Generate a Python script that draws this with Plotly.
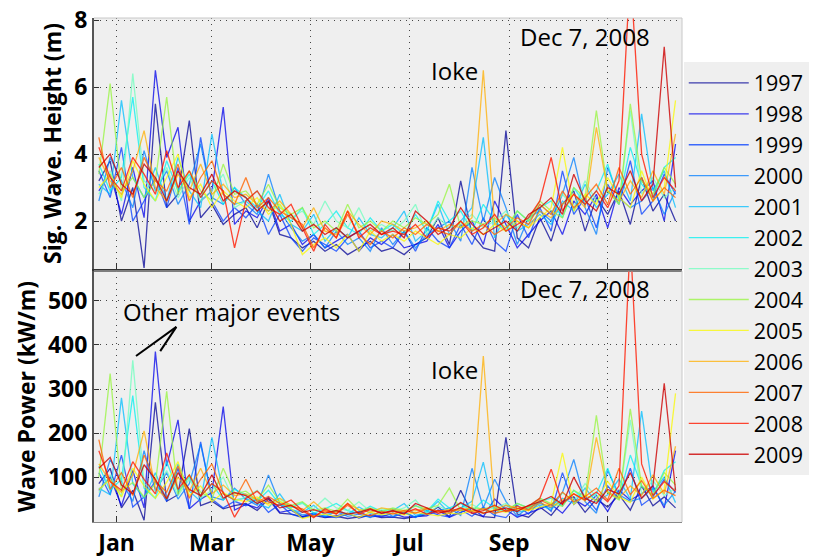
import plotly.graph_objects as go

# ---------------- data ----------------
years = ["1997", "1998", "1999", "2000", "2001", "2002", "2003",
         "2004", "2005", "2006", "2007", "2008", "2009"]
# day-of-year of each weekly sample
days = [3 + 7 * i for i in range(52)]

month_ticks = [14, 73, 134, 195, 257, 318]
month_labels = ["Jan", "Mar", "May", "Jul", "Sep", "Nov"]

hs_1997 = [3.2,3.8,2.0,3.0,0.6,5.5,2.4,2.8,5.0,2.1,2.5,1.9,2.2,
           2.4,1.8,2.6,1.6,1.5,1.2,1.4,1.1,1.3,1.0,1.2,1.4,1.1,
           1.2,1.0,1.3,1.5,2.1,1.3,3.2,1.6,1.2,1.1,4.7,1.5,1.2,
           2.1,1.4,2.5,2.9,1.7,2.7,2.2,2.9,1.9,3.3,2.3,2.8,2.0]
hs_1998 = [2.9,3.4,2.2,3.6,2.1,6.5,3.9,4.8,2.0,2.6,2.9,5.4,1.9,
           2.3,2.1,2.7,1.7,1.9,1.3,1.6,1.2,1.4,1.6,1.1,1.5,1.3,
           1.6,1.2,1.3,1.4,1.9,1.2,1.7,2.0,1.3,2.6,1.9,1.2,1.6,
           2.0,2.3,1.6,2.6,2.2,2.8,1.8,3.0,2.5,2.9,3.2,2.0,4.3]
hs_1999 = [3.5,2.7,4.2,2.0,2.6,3.3,2.4,3.6,1.9,4.5,2.6,2.0,2.4,
           2.1,2.5,1.6,2.2,1.5,1.1,1.5,1.3,1.1,1.5,1.7,1.2,1.4,
           1.2,1.7,1.1,1.8,1.4,1.2,1.9,1.3,2.1,1.4,1.1,2.2,1.5,
           2.4,1.7,3.5,2.2,2.7,1.8,3.1,2.5,3.8,2.2,2.6,3.4,2.8]
hs_2000 = [2.6,3.9,3.2,2.4,4.1,2.9,3.5,2.5,3.1,4.3,2.7,2.5,3.0,
           2.5,2.2,3.4,2.3,1.8,1.4,1.6,1.2,1.7,1.3,1.5,1.1,1.8,
           1.3,1.7,1.2,1.6,1.8,2.0,1.4,3.6,2.0,3.3,2.4,1.3,2.1,
           2.3,2.0,2.8,3.9,2.4,1.6,3.6,2.7,2.4,2.6,3.0,2.2,2.9]
hs_2001 = [3.1,2.8,5.6,3.3,2.7,3.6,2.6,3.9,2.9,2.4,4.6,2.8,2.5,
           2.6,2.3,2.0,2.8,1.9,1.7,2.2,1.4,1.8,1.5,2.1,1.6,1.5,
           1.8,2.3,1.4,1.7,2.5,1.6,2.0,2.4,4.5,1.5,2.2,1.7,1.9,
           2.2,1.9,2.6,2.3,3.1,2.4,2.8,3.4,2.6,5.2,2.9,3.5,2.4]
hs_2002 = [3.7,2.9,3.3,5.7,3.0,2.6,3.8,2.9,3.4,2.7,3.2,2.5,3.0,
           2.7,2.4,2.9,2.2,2.0,2.4,1.6,1.9,2.3,1.8,1.6,2.1,1.7,
           1.9,1.6,2.2,1.7,2.6,2.0,2.3,1.7,2.5,2.0,1.7,2.3,2.0,
           2.4,2.6,2.1,3.0,2.5,2.9,3.7,2.6,4.2,3.1,2.7,3.6,3.9]
hs_2003 = [2.8,3.5,2.6,6.4,3.2,2.9,3.6,2.7,3.3,2.6,2.9,3.4,2.4,
           2.6,2.9,2.3,2.5,2.1,2.3,1.9,2.6,2.0,1.8,2.4,1.7,1.9,
           1.7,2.0,2.5,1.6,2.1,1.8,1.9,2.2,1.8,2.0,2.3,1.8,2.1,
           2.5,2.2,2.8,2.4,3.2,2.6,2.9,2.5,5.3,2.8,3.3,2.7,3.0]
hs_2004 = [3.4,6.1,2.9,3.3,2.7,3.2,5.7,2.8,3.5,2.9,2.6,3.7,2.8,
           2.9,2.5,3.1,2.4,2.2,2.4,1.8,2.0,1.7,2.5,1.8,2.0,1.7,
           2.0,1.8,2.1,1.9,2.2,3.1,1.8,2.0,1.9,2.1,1.8,2.3,2.0,
           2.6,2.3,2.1,3.0,2.7,5.3,2.9,2.5,5.5,3.2,2.8,3.6,3.1]
hs_2005 = [3.0,3.4,2.7,3.8,3.1,2.6,3.3,4.0,2.7,3.1,2.4,2.9,2.6,
           2.4,2.7,2.2,2.5,1.9,1.0,1.3,1.5,1.2,1.6,1.1,1.7,1.4,
           1.6,1.4,1.7,1.5,1.3,1.6,1.5,1.8,1.6,1.9,1.7,2.0,1.8,
           2.1,2.4,4.2,2.3,2.8,2.5,3.3,2.7,2.4,3.5,2.6,3.0,5.6]
hs_2006 = [3.9,3.2,2.8,3.5,4.7,3.0,2.6,3.4,2.9,3.7,2.8,3.1,2.7,
           2.8,2.5,2.3,2.6,2.2,1.8,2.4,1.7,1.6,2.3,1.9,1.6,2.0,
           1.9,1.7,1.8,2.0,1.7,1.9,1.8,2.1,6.5,1.9,2.2,2.0,1.8,
           2.3,2.1,2.5,2.8,2.4,4.8,2.9,2.6,3.2,2.7,3.5,2.8,4.6]
hs_2007 = [4.5,3.0,3.6,2.7,3.9,3.2,2.9,3.7,2.6,3.3,3.8,2.8,2.5,
           3.3,2.4,2.7,2.3,2.1,1.9,1.2,1.8,1.5,2.2,1.6,1.3,1.7,
           1.5,1.8,1.6,1.9,1.7,1.6,2.0,1.7,1.9,1.6,1.8,2.1,1.9,
           2.5,2.2,2.9,2.4,2.7,3.1,2.5,3.6,2.8,3.3,2.6,3.0,2.7]
hs_2008 = [4.2,3.3,2.9,3.9,3.4,2.8,4.1,3.0,3.5,2.7,3.2,2.9,1.2,
           2.6,2.9,2.4,2.2,2.5,1.8,1.1,1.9,1.5,2.3,1.5,1.8,1.6,
           1.7,1.6,1.9,1.5,1.8,1.7,2.0,1.6,1.8,2.2,1.7,1.9,2.1,
           2.6,3.9,2.3,2.8,2.5,2.9,2.4,3.2,9.5,4.0,2.7,3.3,2.9]
hs_2009 = [3.6,4.0,3.1,2.8,3.7,3.3,2.6,3.5,3.0,2.8,3.4,2.6,2.9,
           2.7,2.3,2.6,2.0,2.2,1.7,1.9,1.6,1.8,1.5,1.7,1.9,1.6,
           1.8,1.5,2.3,2.0,1.6,1.8,2.4,1.9,1.6,1.8,2.0,1.7,2.2,
           2.4,2.7,2.2,3.4,2.6,2.3,3.0,2.8,3.5,2.6,3.1,7.2,3.0]

pw_1997 = [85,120,30,70,2,270,45,60,210,35,45,28,35,
           40,24,50,18,16,10,13,8,11,6,9,13,8,
           9,6,11,15,32,10,70,18,10,8,190,16,9,
           32,13,45,55,20,50,32,60,25,80,35,55,30]
pw_1998 = [70,100,35,115,30,385,125,230,28,50,65,260,25,
           38,30,55,20,25,10,18,9,12,18,7,14,10,
           18,9,10,12,25,9,20,30,10,50,26,9,18,
           28,38,18,50,34,58,22,70,48,62,80,30,160]
pw_1999 = [110,60,150,32,55,90,45,120,28,180,50,30,45,
           35,50,20,38,16,8,16,11,8,16,22,9,13,
           9,20,8,24,14,9,26,11,32,13,8,36,16,
           45,22,110,38,58,25,80,50,120,36,55,95,65]
pw_2000 = [55,140,90,45,160,70,110,50,85,175,55,48,75,
           50,36,105,40,26,14,18,10,22,11,16,8,24,
           11,20,9,18,24,30,13,120,30,95,45,11,32,
           40,30,65,140,44,18,115,60,45,52,75,36,68]
pw_2001 = [75,60,280,85,52,110,48,130,68,45,190,62,48,
           52,40,30,62,26,20,36,13,24,16,32,18,16,
           24,40,13,20,45,18,30,45,134,16,36,20,26,
           36,26,52,40,75,44,60,95,50,250,66,100,42]
pw_2002 = [125,70,95,285,75,52,135,68,100,58,85,48,72,
           60,45,70,38,30,42,18,28,40,24,18,34,22,
           28,18,36,22,50,30,40,22,48,30,22,40,30,
           45,52,34,70,48,62,120,52,150,80,58,115,135]
pw_2003 = [65,105,55,365,85,68,115,58,95,52,70,100,45,
           55,70,42,50,34,40,28,52,30,24,44,22,28,
           22,30,48,18,34,24,28,38,24,30,40,24,34,
           52,38,64,46,85,55,68,50,230,62,92,58,75]
pw_2004 = [100,335,68,88,55,85,295,62,105,66,50,120,62,
           68,48,82,44,36,44,24,30,22,50,24,30,22,
           30,24,34,28,36,75,24,30,28,34,24,40,30,
           52,40,34,70,55,240,64,48,255,80,60,110,82]
pw_2005 = [72,95,55,120,80,52,88,135,58,80,44,65,50,
           44,55,36,46,28,6,12,16,10,18,8,20,14,
           18,14,20,16,12,18,16,24,18,26,20,28,24,
           32,40,155,38,60,46,90,55,42,100,50,72,290]
pw_2006 = [130,90,65,105,205,75,52,100,68,120,62,82,58,
           62,48,40,52,36,24,44,22,20,40,26,20,30,
           26,22,24,30,22,26,24,32,375,26,36,30,24,
           42,32,48,62,46,190,66,52,80,58,105,62,170]
pw_2007 = [185,72,110,58,150,90,66,125,52,95,130,62,48,
           95,44,56,40,34,28,10,24,16,36,18,12,22,
           16,24,18,28,22,18,30,22,28,18,24,34,26,
           48,36,66,44,56,75,48,120,60,92,52,70,58]
pw_2008 = [160,90,70,135,95,62,155,72,105,56,85,66,9,
           52,68,44,36,48,24,8,28,16,40,16,26,18,
           22,18,28,16,24,22,30,18,24,36,22,28,34,
           52,118,40,62,48,66,44,80,640,130,58,90,68]
pw_2009 = [120,145,82,62,128,95,50,110,72,58,105,52,65,
           58,40,52,30,36,20,26,18,24,16,20,28,18,
           24,16,40,30,18,24,42,28,18,24,30,22,36,
           44,56,38,100,52,40,72,62,110,52,80,313,70]

heights = [hs_1997, hs_1998, hs_1999, hs_2000, hs_2001, hs_2002, hs_2003,
           hs_2004, hs_2005, hs_2006, hs_2007, hs_2008, hs_2009]
powers = [pw_1997, pw_1998, pw_1999, pw_2000, pw_2001, pw_2002, pw_2003,
          pw_2004, pw_2005, pw_2006, pw_2007, pw_2008, pw_2009]

colors = ["rgba(0,0,150,0.75)", "rgba(0,0,235,0.75)", "rgba(0,60,255,0.75)",
          "rgba(0,125,255,0.75)", "rgba(0,190,255,0.75)", "rgba(0,240,240,0.75)",
          "rgba(110,255,190,0.75)", "rgba(150,245,60,0.75)", "rgba(250,250,0,0.75)",
          "rgba(255,175,0,0.75)", "rgba(255,100,0,0.8)", "rgba(255,25,0,0.8)",
          "rgba(205,0,0,0.8)"]

# ---------------- figure ----------------
fig = go.Figure()
for yr, h, p, c in zip(years, heights, powers, colors):
    fig.add_trace(go.Scatter(x=days, y=h, mode="lines", name=yr,
                             line=dict(color=c, width=1.3),
                             xaxis="x", yaxis="y", legendgroup=yr))
    fig.add_trace(go.Scatter(x=days, y=p, mode="lines", name=yr,
                             line=dict(color=c, width=1.3),
                             xaxis="x2", yaxis="y2", legendgroup=yr,
                             showlegend=False))

FONT = "Open Sans, Lato, DejaVu Sans, sans-serif"
grid = dict(showgrid=True, gridcolor="#444", gridwidth=1, griddash="1px,5px")
tfont = dict(size=23, family=FONT, weight="bold", color="black")

fig.update_layout(
    width=827, height=559,
    margin=dict(l=94, r=145, t=18, b=37),
    paper_bgcolor="white", plot_bgcolor="#efefef",
    font=dict(family=FONT, color="black"),
    showlegend=True,
    legend=dict(x=1.003, y=0.912, xanchor="left", yanchor="top",
                bgcolor="#efefef", font=dict(size=21.5, family=FONT),
                itemwidth=60, tracegroupgap=0),
    xaxis=dict(domain=[0, 1], anchor="y", range=[0, 364], automargin=False,
               tickvals=month_ticks, showticklabels=False,
               ticks="inside", ticklen=6, tickcolor="#333",
               showline=True, linecolor="#333", linewidth=3,
               zeroline=False, **grid),
    yaxis=dict(domain=[0.502, 1], anchor="x", range=[0.57, 8.06], automargin=False,
               tickvals=[2, 4, 6, 8], ticks="inside", ticklen=5,
               tickcolor="#333", tickfont=tfont,
               showline=True, linecolor="#555", linewidth=2,
               zeroline=False,
               title=dict(text="Sig. Wave. Height (m)", standoff=6,
                          font=dict(size=23, family=FONT, weight="bold")),
               **grid),
    xaxis2=dict(domain=[0, 1], anchor="y2", range=[0, 364], automargin=False,
                tickvals=month_ticks, ticktext=month_labels,
                ticks="inside", ticklen=6, tickcolor="#333", tickfont=tfont,
                showline=True, linecolor="#888", linewidth=1,
                zeroline=False, **grid),
    yaxis2=dict(domain=[0, 0.498], anchor="x2", range=[-2, 568], automargin=False,
                tickvals=[100, 200, 300, 400, 500], ticks="inside", ticklen=5,
                tickcolor="#333", tickfont=tfont,
                showline=True, linecolor="#555", linewidth=2,
                zeroline=False,
                title=dict(text="Wave Power (kW/m)", standoff=6,
                           font=dict(size=23, family=FONT, weight="bold")),
                **grid),
)

# light frame edges (top and right) for both panels
for y0, y1 in [(0.502, 1.0), (0.0, 0.498)]:
    fig.add_shape(type="line", xref="paper", yref="paper", x0=0, x1=1, y0=y1, y1=y1,
                  line=dict(color="#c8c8c8", width=1))
    fig.add_shape(type="line", xref="paper", yref="paper", x0=1, x1=1, y0=y0, y1=y1,
                  line=dict(color="#c8c8c8", width=1))

ann_font = dict(size=24, family=FONT, color="black")
fig.add_annotation(x=304, y=7.5, xref="x", yref="y", text="Dec 7, 2008",
                   showarrow=False, font=ann_font)
fig.add_annotation(x=304, y=528, xref="x2", yref="y2", text="Dec 7, 2008",
                   showarrow=False, font=ann_font)
fig.add_annotation(x=223, y=6.5, xref="x", yref="y", text="Ioke",
                   showarrow=False, font=ann_font)
fig.add_annotation(x=223, y=345, xref="x2", yref="y2", text="Ioke",
                   showarrow=False, font=ann_font)
fig.add_annotation(x=85, y=475, xref="x2", yref="y2", text="Other major events",
                   showarrow=False, font=ann_font)
fig.add_shape(type="line", xref="x2", yref="y2", x0=51, y0=441, x1=26, y1=375,
              line=dict(color="black", width=2))
fig.add_shape(type="line", xref="x2", yref="y2", x0=51, y0=441, x1=41, y1=386,
              line=dict(color="black", width=2))

fig.write_html("out.html", config={"displayModeBar": False},
               post_script="document.body.style.margin='0';")
